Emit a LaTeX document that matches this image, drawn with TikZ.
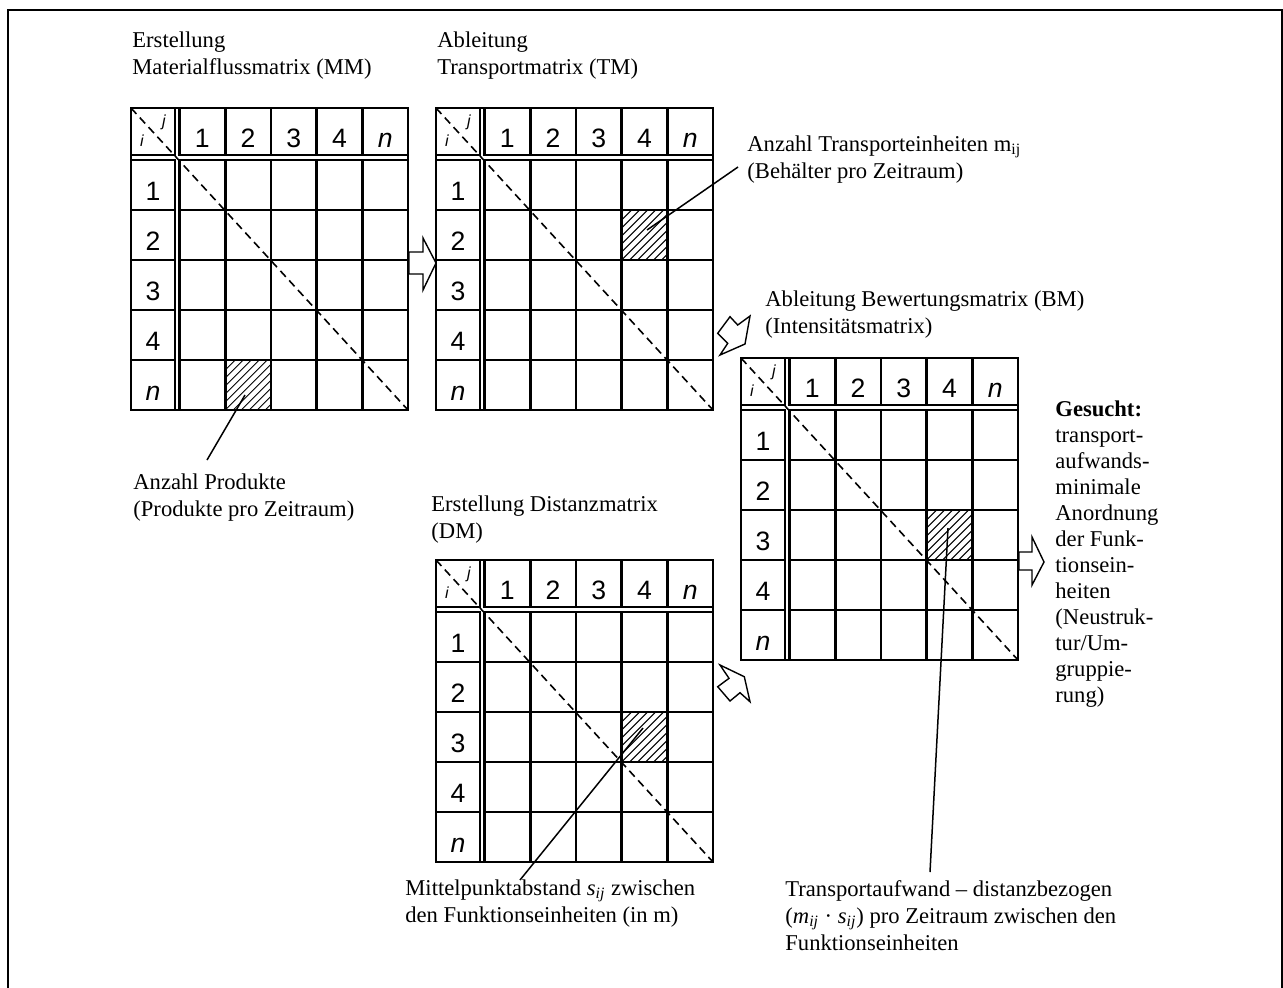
\documentclass[tikz,border=0pt]{standalone}
\usepackage{fontspec}
\setmainfont{Liberation Serif}
\newfontfamily\matfont{Liberation Sans}
\newcommand{\mymatrix}[5]{%
\begin{scope}[shift={(#2,#3)}]
  \pgfmathsetmacro{\hx}{48.5+45.7*(#4-1)}
  \pgfmathsetmacro{\hy}{52+50*(#5-1)}
  \begin{scope}
    \clip (\hx,\hy) rectangle ++(45.7,50);
    \foreach \k in {-48,-40,...,48} \draw[hatchline] (\hx+\k,\hy+50) -- ++(56,-56);
  \end{scope}
  \draw[gridline] (0,0) rectangle (277,302);
  \draw[gridline] (0,0) rectangle (44,47);
  \draw[gridline] (48.5,0) rectangle (277,47);
  \draw[gridline] (0,52) rectangle (44,302);
  \draw[gridline] (48.5,52) rectangle (277,302);
  \foreach \c in {1,...,4} {
    \draw[gridline] (48.5+45.7*\c,0) -- (48.5+45.7*\c,47);
    \draw[gridline] (48.5+45.7*\c,52) -- (48.5+45.7*\c,302);
  }
  \foreach \r in {1,...,4} {
    \draw[gridline] (0,52+50*\r) -- (44,52+50*\r);
    \draw[gridline] (48.5,52+50*\r) -- (277,52+50*\r);
  }
  \draw[diag] (0,0) -- (277,302);
  \node[cornerlbl] (#1j) at (33,14) {j};
  \node[cornerlbl] (#1i) at (11,33) {i};
  \foreach \t [count=\c] in {1,2,3,4,{\textit{n}}} {
    \node[lbl] (#1c\c) at (48.5+45.7*\c-22.85,39) {\t};
    \node[lbl] (#1r\c) at (22,52+50*\c-10) {\t};
  }
\end{scope}}
\begin{document}
\begin{tikzpicture}[x=0.5pt,y=-0.5pt,
  gridline/.style={line width=1.35pt},
  hatchline/.style={line width=0.45pt},
  diag/.style={line width=0.8pt, dash pattern=on 4pt off 2.5pt},
  lbl/.style={font=\matfont\fontsize{13.3}{15}\selectfont, inner sep=0pt, anchor=base},
  cornerlbl/.style={font=\matfont\itshape\fontsize{8}{9}\selectfont, inner sep=0pt},
  txt/.style={font=\fontsize{11.3}{13.5}\selectfont, align=left, anchor=base west, inner sep=0pt},
  leader/.style={line width=0.75pt},
  blockarrow/.style={line width=0.7pt, fill=white, line join=miter},
]
\useasboundingbox (0,0) rectangle (1283,987);
\draw[line width=1pt] (8,10) rectangle (1281.5,1000);

\mymatrix{mm}{131}{108}{2}{5}
\mymatrix{tm}{436}{108}{4}{2}
\mymatrix{dm}{436}{560}{4}{3}
\mymatrix{bm}{741}{358}{4}{3}

% block arrows
\draw[blockarrow] (409,252) -- (423,252) -- (423,238) -- (436,263) -- (423,290) -- (423,274) -- (409,274) -- cycle;
\draw[blockarrow] (1019,552) -- (1032,552) -- (1032,537) -- (1044,562) -- (1032,585) -- (1032,570) -- (1019,570) -- cycle;
\draw[blockarrow] (730,316.7) -- (737.7,325) -- (750,316) -- (745,344) -- (720,355) -- (727.7,343.3) -- (717.7,333.3) -- cycle;
\draw[blockarrow] (720,665) -- (744.3,676.7) -- (750,701.7) -- (740,692.7) -- (730,701) -- (717.7,686.7) -- (729,678.3) -- cycle;

% titles (anchor = baseline of last line)
\node[txt] (t1) at (132,74) {Erstellung\\Materialflussmatrix (MM)};
\node[txt] (t2) at (437,74) {Ableitung\\Transportmatrix (TM)};
\node[txt] (t3) at (765,333) {Ableitung Bewertungsmatrix (BM)\\(Intensitätsmatrix)};
\node[txt] (t4) at (431,538) {Erstellung Distanzmatrix\\(DM)};

% annotations
\node[txt] (a1) at (133,516) {Anzahl Produkte\\(Produkte pro Zeitraum)};
\node[txt] (a2) at (747,178) {Anzahl Transporteinheiten m\textsubscript{ij}\\(Behälter pro Zeitraum)};
\node[txt] (a3) at (405,922) {Mittelpunktabstand \textit{s}\textsubscript{\textit{ij}} zwischen\\den Funktionseinheiten (in m)};
\node[txt] (a4) at (785,950) {Transportaufwand – distanzbezogen\\(\textit{m}\textsubscript{\textit{ij}} · \textit{s}\textsubscript{\textit{ij}}) pro Zeitraum zwischen den\\Funktionseinheiten};
\node[txt, font=\fontsize{11.3}{13}\selectfont] (g) at (1055,702) {\textbf{Gesucht:}\\transport-\\aufwands-\\minimale\\Anordnung\\der Funk-\\tionsein-\\heiten\\(Neustruk-\\tur/Um-\\gruppie-\\rung)};

% leaders
\coordinate (l1a) at (245,395); \coordinate (l1b) at (207,460);
\coordinate (l2a) at (647,230); \coordinate (l2b) at (738,167);
\coordinate (l3a) at (643,728); \coordinate (l3b) at (520,880);
\coordinate (l4a) at (948,528); \coordinate (l4b) at (930,872);
\draw[leader] (l1a) -- (l1b);
\draw[leader] (l2a) -- (l2b);
\draw[leader] (l3a) -- (l3b);
\draw[leader] (l4a) -- (l4b);
\end{tikzpicture}
\end{document}
